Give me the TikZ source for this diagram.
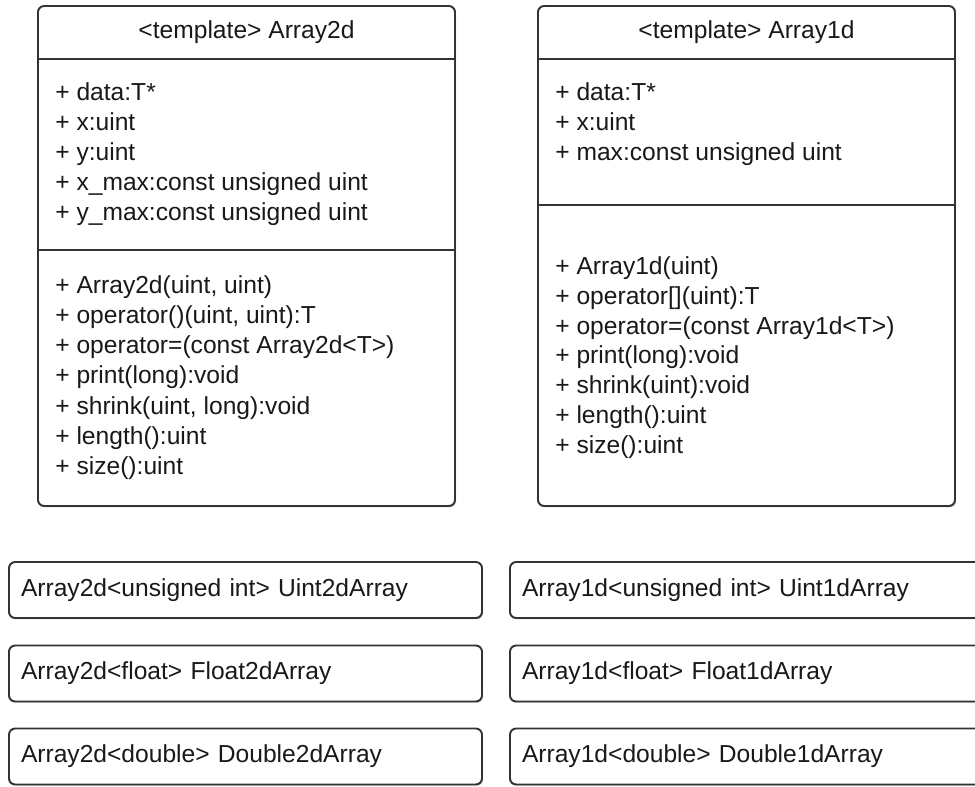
\documentclass[tikz,border=0pt]{standalone}
\usepackage{fontspec}
\setmainfont{Liberation Sans}
\usetikzlibrary{shadows}

\begin{document}
\begin{tikzpicture}[
    classbox/.style={draw=black!80, line width=1.1pt, rectangle, rounded corners=3.5pt, minimum width=8.34cm, minimum height=10cm, fill=white, drop shadow={shadow xshift=0.6pt, shadow yshift=-0.8pt, opacity=0.3}},
    typebox/.style={draw=black!80, line width=1.1pt, rectangle, rounded corners=3.5pt, minimum height=1.12cm, text width=8.98cm, inner xsep=0.24cm, align=left, fill=white, drop shadow={shadow xshift=0.6pt, shadow yshift=-0.8pt, opacity=0.3}},
    title/.style={inner sep=0pt},
    members/.style={inner sep=0pt, anchor=west, align=left},
    divider/.style={draw=black!80, line width=1.1pt},
    font=\fontsize{14}{17}\selectfont, text=black!90
]

\useasboundingbox (0, 0) rectangle (19.5, -15.72);
\clip (0, 0) rectangle (19.5, -15.72);

% Class Array2d
\node[classbox] (arr2d) at (4.93, -5.12) {};
\node[title] (arr2dtitle) at (4.93, -0.64) {<template> Array2d};
\node[members] (arr2dattr) at (1.1, -3.08) {+ data:T*\\+ x:uint\\+ y:uint\\+ x\_max:const unsigned uint\\+ y\_max:const unsigned uint};
\node[members, font=\fontsize{14}{17.2}\selectfont] (arr2dops) at (1.1, -7.55) {+ Array2d(uint, uint)\\+ operator()(uint, uint):T\\+ operator=(const Array2d<T>)\\+ print(long):void\\+ shrink(uint, long):void\\+ length():uint\\+ size():uint};
\coordinate (arr2dhead) at (4.93, -1.18);
\coordinate (arr2dsplit) at (4.93, -5.0);

% Class Array1d
\node[classbox] (arr1d) at (14.93, -5.12) {};
\node[title] (arr1dtitle) at (14.93, -0.64) {<template> Array1d};
\node[members] (arr1dattr) at (11.1, -2.48) {+ data:T*\\+ x:uint\\+ max:const unsigned uint};
\node[members] (arr1dops) at (11.1, -7.15) {+ Array1d(uint)\\+ operator[](uint):T\\+ operator=(const Array1d<T>)\\+ print(long):void\\+ shrink(uint):void\\+ length():uint\\+ size():uint};
\coordinate (arr1dhead) at (14.93, -1.18);
\coordinate (arr1dsplit) at (14.93, -4.1);

% Dividers
\draw[divider] (arr2d.west |- arr2dhead) -- (arr2d.east |- arr2dhead);
\draw[divider] (arr2d.west |- arr2dsplit) -- (arr2d.east |- arr2dsplit);
\draw[divider] (arr1d.west |- arr1dhead) -- (arr1d.east |- arr1dhead);
\draw[divider] (arr1d.west |- arr1dsplit) -- (arr1d.east |- arr1dsplit);

% Typedefs
\node[typebox] (uint2d) at (4.91, -11.8) {Array2d<unsigned int> Uint2dArray};
\node[typebox] (float2d) at (4.91, -13.47) {Array2d<float> Float2dArray};
\node[typebox] (double2d) at (4.91, -15.13) {Array2d<double> Double2dArray};
\node[typebox] (uint1d) at (14.93, -11.8) {Array1d<unsigned int> Uint1dArray};
\node[typebox] (float1d) at (14.93, -13.47) {Array1d<float> Float1dArray};
\node[typebox] (double1d) at (14.93, -15.13) {Array1d<double> Double1dArray};

\end{tikzpicture}
\end{document}
